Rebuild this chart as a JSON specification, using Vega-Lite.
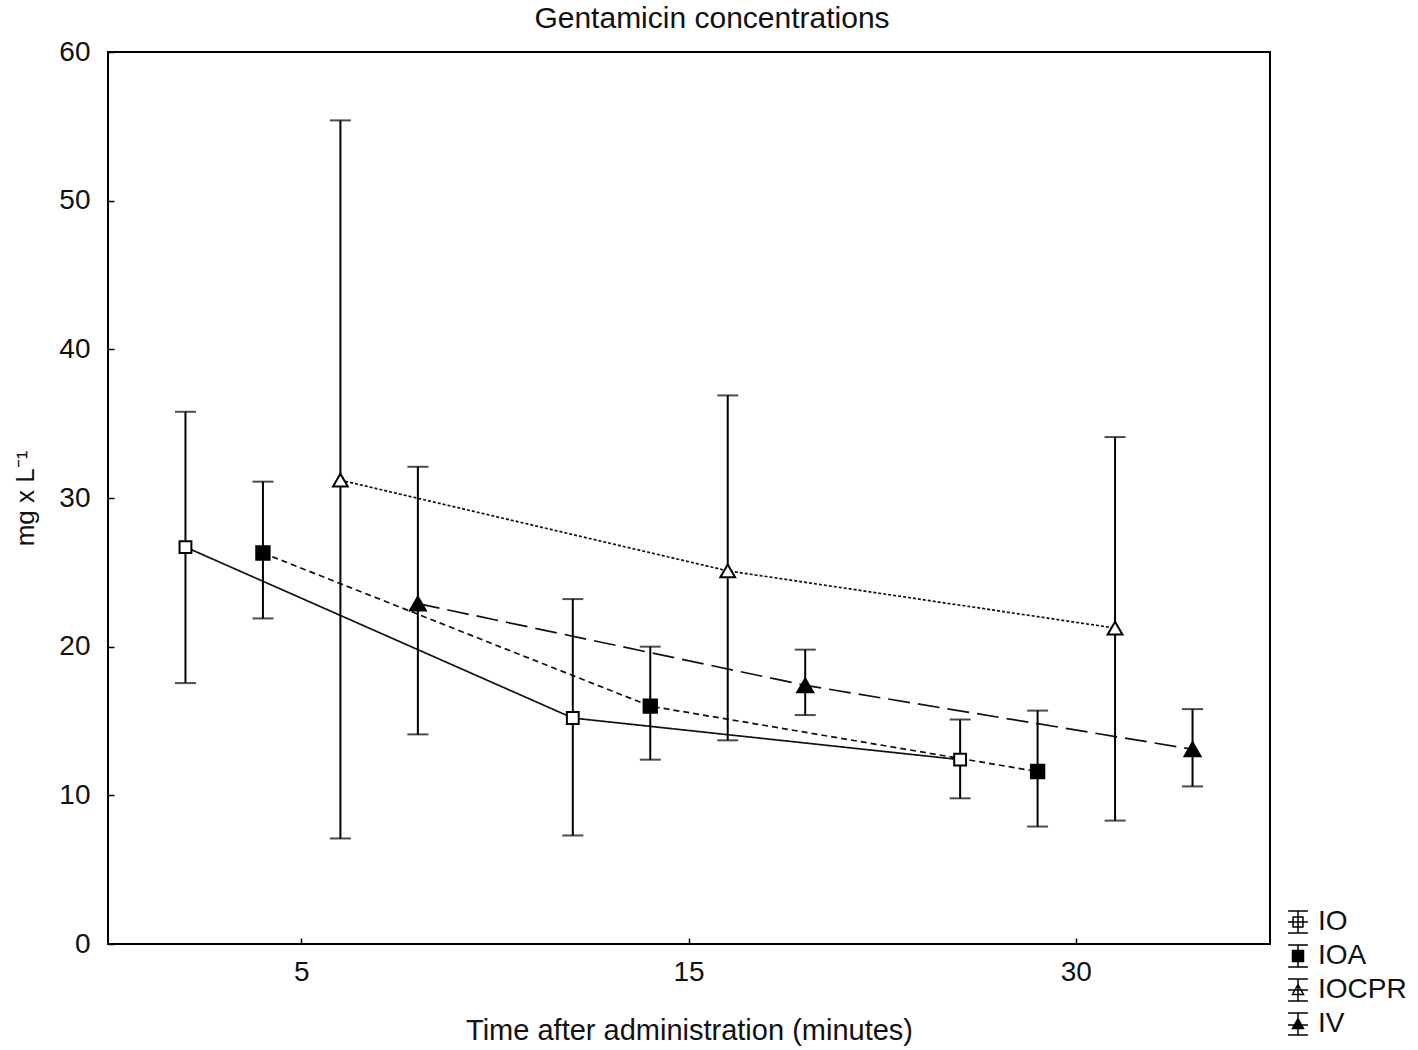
{
  "$schema": "https://vega.github.io/schema/vega-lite/v6.json",
  "width": 1162,
  "height": 892,
  "autosize": {"type": "none"},
  "padding": {"left": 108, "top": 52, "right": 148, "bottom": 106},
  "background": "white",
  "config": {
    "font": "Liberation Sans",
    "view": {"stroke": "black", "strokeWidth": 2},
    "axis": {"labelFont": "Liberation Sans", "titleFont": "Liberation Sans", "labelColor": "#111", "titleColor": "#111", "grid": false, "domain": false, "tickColor": "black", "tickWidth": 1.5}
  },
  "title": {"text": "Gentamicin concentrations", "fontSize": 30, "fontWeight": "normal", "color": "#111", "font": "Liberation Sans", "anchor": "middle", "dx": 23, "offset": 4},
  "data": {"values": [
    {"time": "5", "group": "IO", "mean": 26.7, "lo": 17.55, "hi": 35.8},
    {"time": "5", "group": "IOA", "mean": 26.3, "lo": 21.9, "hi": 31.1},
    {"time": "5", "group": "IOCPR", "mean": 31.2, "lo": 7.1, "hi": 55.4},
    {"time": "5", "group": "IV", "mean": 22.9, "lo": 14.1, "hi": 32.1},
    {"time": "15", "group": "IO", "mean": 15.2, "lo": 7.3, "hi": 23.2},
    {"time": "15", "group": "IOA", "mean": 16.0, "lo": 12.4, "hi": 20.0},
    {"time": "15", "group": "IOCPR", "mean": 25.1, "lo": 13.7, "hi": 36.9},
    {"time": "15", "group": "IV", "mean": 17.4, "lo": 15.4, "hi": 19.8},
    {"time": "30", "group": "IO", "mean": 12.4, "lo": 9.8, "hi": 15.1},
    {"time": "30", "group": "IOA", "mean": 11.6, "lo": 7.9, "hi": 15.7},
    {"time": "30", "group": "IOCPR", "mean": 21.25, "lo": 8.3, "hi": 34.1},
    {"time": "30", "group": "IV", "mean": 13.1, "lo": 10.6, "hi": 15.8}
  ]},
  "encoding": {
    "x": {"field": "time", "type": "ordinal", "sort": ["5", "15", "30"],
      "scale": {"paddingInner": 0, "paddingOuter": 0},
      "axis": {"title": "Time after administration (minutes)", "labelAngle": 0, "bandPosition": 0.5, "labelFontSize": 28, "titleFontSize": 29, "titleFontWeight": "normal", "tickSize": -6, "labelPadding": 20, "titlePadding": 30}},
    "xOffset": {"field": "group", "type": "nominal", "sort": ["IO", "IOA", "IOCPR", "IV"], "scale": {"paddingInner": 0, "paddingOuter": 0.5}}
  },
  "layer": [
    {
      "mark": {"type": "line", "color": "#111", "strokeWidth": 1.7},
      "encoding": {
        "y": {"field": "mean", "type": "quantitative", "scale": {"domain": [0, 60], "nice": false, "zero": true},
          "axis": {"title": "mg x L⁻¹", "values": [0, 10, 20, 30, 40, 50, 60], "labelFontSize": 28, "titleFontSize": 26, "titleFontWeight": "normal", "tickSize": -6, "labelPadding": 24, "titlePadding": 20}},
        "detail": {"field": "group"},
        "strokeDash": {"field": "group", "type": "nominal", "sort": ["IO", "IOA", "IOCPR", "IV"], "scale": {"domain": ["IO", "IOA", "IOCPR", "IV"], "range": [[1, 0], [6, 4], [3, 2], [22, 8]]}, "legend": null}
      }
    },
    {
      "mark": {"type": "rule", "color": "black", "strokeWidth": 2},
      "encoding": {
        "y": {"field": "lo", "type": "quantitative"},
        "y2": {"field": "hi"}
      }
    },
    {
      "mark": {"type": "tick", "color": "black", "thickness": 2, "size": 21, "orient": "horizontal"},
      "encoding": {"y": {"field": "lo", "type": "quantitative"}}
    },
    {
      "mark": {"type": "tick", "color": "black", "thickness": 2, "size": 21, "orient": "horizontal"},
      "encoding": {"y": {"field": "hi", "type": "quantitative"}}
    },
    {
      "mark": {"type": "point", "filled": true, "stroke": "black", "strokeWidth": 2, "opacity": 1},
      "encoding": {
        "y": {"field": "mean", "type": "quantitative"},
        "shape": {"field": "group", "type": "nominal", "scale": {"domain": ["IO", "IOA", "IOCPR", "IV"], "range": ["square", "square", "triangle-up", "triangle-up"]}, "legend": null},
        "fill": {"field": "group", "type": "nominal", "scale": {"domain": ["IO", "IOA", "IOCPR", "IV"], "range": ["white", "black", "white", "black"]}, "legend": null},
        "size": {"field": "group", "type": "ordinal", "scale": {"domain": ["IO", "IOA", "IOCPR", "IV"], "range": [140, 256, 150, 130]}, "legend": null}
      }
    },
    {
      "transform": [{"filter": {"field": "group", "equal": "none"}}],
      "mark": {"type": "point", "filled": false, "stroke": "black", "strokeWidth": 1.5, "size": 484},
      "encoding": {
        "y": {"field": "mean", "type": "quantitative"},
        "shape": {"field": "group", "type": "nominal", "title": null,
          "scale": {"domain": ["IO", "IOA", "IOCPR", "IV"], "range": [
            "M-0.9,-1H0.9M0,-1V1M-0.9,1H0.9M-0.9,0H0.9M-0.45,-0.45H0.45V0.45H-0.45Z",
            "M-0.9,-1H0.9M0,-1V1M-0.9,1H0.9M-0.5,-0.5H0.5V0.5H-0.5ZM-0.5,-0.4H0.5M-0.5,-0.3H0.5M-0.5,-0.2H0.5M-0.5,-0.1H0.5M-0.5,0H0.5M-0.5,0.1H0.5M-0.5,0.2H0.5M-0.5,0.3H0.5M-0.5,0.4H0.5",
            "M-0.9,-1H0.9M0,-1V1M-0.9,1H0.9M-0.9,0H0.9M0,-0.5L0.5,0.4H-0.5Z",
            "M-0.9,-1H0.9M0,-1V1M-0.9,1H0.9M-0.9,0.1H0.9M0,-0.5L0.5,0.4H-0.5ZM-0.06,-0.4H0.06M-0.11,-0.3H0.11M-0.17,-0.2H0.17M-0.22,-0.1H0.22M-0.28,0H0.28M-0.33,0.1H0.33M-0.39,0.2H0.39M-0.44,0.3H0.44"]},
          "legend": {"orient": "none", "legendX": 1176, "legendY": 856, "labelFontSize": 28, "labelColor": "#111", "labelFont": "Liberation Sans", "symbolSize": 484, "symbolStrokeWidth": 1.5, "symbolStrokeColor": "black", "symbolOpacity": 1, "rowPadding": 6, "labelOffset": 6,
            "encode": {"symbols": {"update": {"stroke": {"value": "black"}, "strokeWidth": {"value": 1.5}, "opacity": {"value": 1}}}}}}
      }
    }
  ],
  "resolve": {"scale": {"shape": "independent", "fill": "independent", "size": "independent"}, "legend": {"shape": "independent", "fill": "independent"}}
}
